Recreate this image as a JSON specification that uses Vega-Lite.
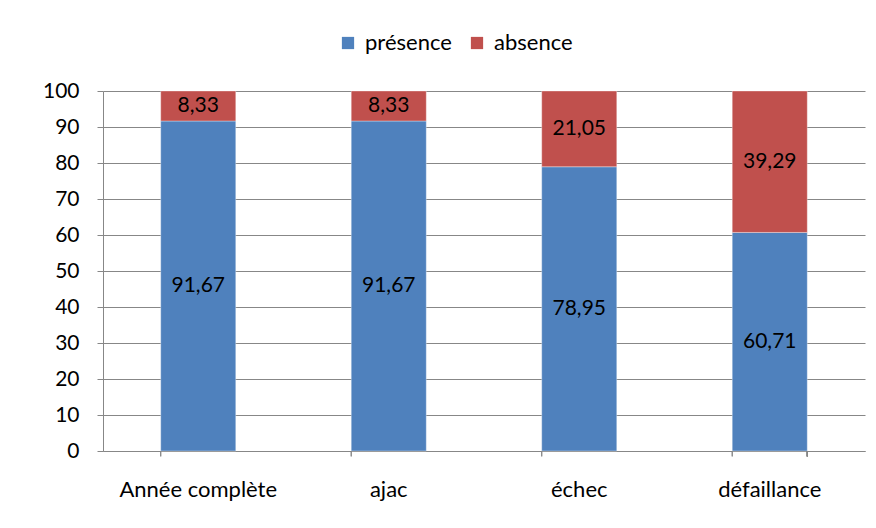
{
  "$schema": "https://vega.github.io/schema/vega-lite/v6.json",
  "autosize": "none",
  "width": 762,
  "height": 360,
  "padding": {"left": 103, "top": 91, "right": 11, "bottom": 77},
  "background": "white",
  "config": {
    "font": "Lato",
    "view": {"stroke": null},
    "locale": {
      "number": {"decimal": ",", "thousands": " ", "grouping": [3], "currency": ["", " €"]}
    },
    "axis": {
      "domainColor": "#878787",
      "tickColor": "#878787",
      "gridColor": "#878787",
      "labelColor": "black",
      "labelFont": "Lato",
      "title": null
    }
  },
  "data": {
    "values": [
      {"cat": "Année complète", "statut": "présence", "value": 91.67},
      {"cat": "Année complète", "statut": "absence", "value": 8.33},
      {"cat": "ajac", "statut": "présence", "value": 91.67},
      {"cat": "ajac", "statut": "absence", "value": 8.33},
      {"cat": "échec", "statut": "présence", "value": 78.95},
      {"cat": "échec", "statut": "absence", "value": 21.05},
      {"cat": "défaillance", "statut": "présence", "value": 60.71},
      {"cat": "défaillance", "statut": "absence", "value": 39.29}
    ]
  },
  "transform": [
    {
      "stack": "value",
      "groupby": ["cat"],
      "sort": [{"field": "statut", "order": "descending"}],
      "as": ["v0", "v1"]
    },
    {"calculate": "(datum.v0 + datum.v1) / 2", "as": "mid"}
  ],
  "layer": [
    {
      "mark": {"type": "bar", "stroke": "white", "strokeOpacity": 0.35, "strokeWidth": 1},
      "encoding": {
        "x": {
          "field": "cat",
          "type": "nominal",
          "sort": ["Année complète", "ajac", "échec", "défaillance"],
          "scale": {"paddingInner": 0.606, "paddingOuter": 0.303},
          "axis": {"labelAngle": 0, "ticks": false, "labelPadding": 28, "labelFontSize": 22, "domainWidth": 1}
        },
        "y": {
          "field": "v1",
          "type": "quantitative",
          "scale": {"domain": [0, 100], "nice": false},
          "axis": {
            "values": [0, 10, 20, 30, 40, 50, 60, 70, 80, 90, 100],
            "tickSize": 6,
            "labelPadding": 18,
            "labelFontSize": 21,
            "grid": true,
            "gridOpacity": 1
          }
        },
        "y2": {"field": "v0"},
        "color": {
          "field": "statut",
          "type": "nominal",
          "scale": {"domain": ["présence", "absence"], "range": ["#4F81BD", "#C0504D"]},
          "legend": {
            "title": null,
            "orient": "none",
            "direction": "horizontal",
            "legendX": 234,
            "legendY": -59,
            "symbolType": "square",
            "symbolSize": 150,
            "symbolStrokeWidth": 0,
            "symbolOpacity": 1,
            "labelFontSize": 22,
            "labelColor": "black",
            "labelOffset": 6,
            "columnPadding": 14
          }
        },
        "order": {"field": "statut", "sort": "descending"}
      }
    },
    {
      "mark": {"type": "text", "fontSize": 21, "color": "black", "baseline": "middle"},
      "encoding": {
        "x": {"field": "cat", "type": "nominal", "sort": ["Année complète", "ajac", "échec", "défaillance"]},
        "y": {
          "field": "mid",
          "type": "quantitative",
          "axis": {
            "values": [0, 10, 20, 30, 40, 50, 60, 70, 80, 90, 100],
            "tickSize": 6,
            "labelPadding": 18,
            "labelFontSize": 21,
            "grid": true,
            "gridOpacity": 1
          }
        },
        "text": {"field": "value", "type": "quantitative", "format": ".2f"}
      }
    },
    {
      "mark": {"type": "rule", "color": "#878787", "strokeWidth": 1},
      "encoding": {
        "x": {"field": "cat", "type": "nominal", "sort": ["Année complète", "ajac", "échec", "défaillance"], "bandPosition": 0},
        "y": {
          "datum": 0,
          "type": "quantitative",
          "axis": {
            "values": [0, 10, 20, 30, 40, 50, 60, 70, 80, 90, 100],
            "tickSize": 6,
            "labelPadding": 18,
            "labelFontSize": 21,
            "grid": true,
            "gridOpacity": 1
          }
        },
        "y2": {"datum": -1.5}
      }
    },
    {
      "mark": {"type": "rule", "color": "#878787", "strokeWidth": 1},
      "encoding": {
        "x": {"datum": "défaillance", "bandPosition": 1},
        "y": {
          "datum": 0,
          "type": "quantitative",
          "axis": {
            "values": [0, 10, 20, 30, 40, 50, 60, 70, 80, 90, 100],
            "tickSize": 6,
            "labelPadding": 18,
            "labelFontSize": 21,
            "grid": true,
            "gridOpacity": 1
          }
        },
        "y2": {"datum": -1.5}
      }
    }
  ]
}
